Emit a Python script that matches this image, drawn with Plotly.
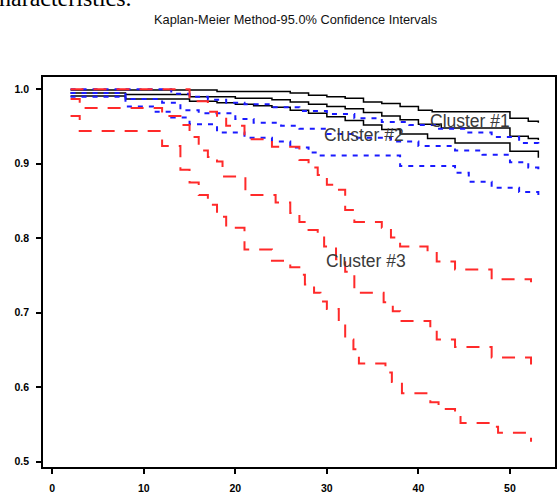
import plotly.graph_objects as go

# ---------------- data ----------------
title_text = "Kaplan-Meier Method-95.0% Confidence Intervals"
header_text = "haracteristics."

x_ticks = [0, 10, 20, 30, 40, 50]
y_ticks = [0.5, 0.6, 0.7, 0.8, 0.9, 1.0]
y_tick_labels = ["0.5", "0.6", "0.7", "0.8", "0.9", "1.0"]

# Cluster #1 (black, solid): upper CI, estimate, lower CI
c1_up_t = [2, 18, 26, 28, 30, 32, 34, 36, 38, 40, 41.5, 50, 52, 53.1]
c1_up_s = [0.999, 0.997, 0.995, 0.992, 0.990, 0.988, 0.983, 0.981, 0.977, 0.972, 0.970, 0.961, 0.957, 0.955]
c1_est_t = [2, 8, 15, 20, 24, 26, 28, 30, 32, 34, 36, 38, 40, 42.5, 50, 52, 53.1]
c1_est_s = [0.995, 0.993, 0.990, 0.988, 0.986, 0.983, 0.980, 0.977, 0.974, 0.969, 0.964, 0.959, 0.953, 0.948, 0.937, 0.934, 0.932]
c1_lo_t = [2, 8, 15, 18, 20, 22, 24, 26, 28, 30, 32, 34, 36, 38, 41, 44, 50, 53.1]
c1_lo_s = [0.991, 0.987, 0.984, 0.982, 0.980, 0.978, 0.976, 0.972, 0.968, 0.963, 0.958, 0.952, 0.946, 0.940, 0.934, 0.928, 0.917, 0.908]

# Cluster #2 (blue, dotted)
c2_up_t = [2, 13, 15, 17, 19, 21, 24, 27, 30, 33, 36, 39, 42, 45, 48, 51, 53.1]
c2_up_s = [1.0, 0.994, 0.990, 0.986, 0.982, 0.980, 0.976, 0.971, 0.967, 0.961, 0.956, 0.952, 0.947, 0.942, 0.936, 0.928, 0.921]
c2_est_t = [2, 8, 12, 14, 16, 20, 22, 25, 27, 30, 33, 37, 40, 44, 47, 50, 52, 53.1]
c2_est_s = [0.995, 0.987, 0.982, 0.972, 0.968, 0.960, 0.955, 0.951, 0.947, 0.940, 0.935, 0.930, 0.924, 0.918, 0.912, 0.902, 0.895, 0.889]
c2_lo_t = [2, 8, 11, 13, 15, 18, 21, 24, 26, 28, 29, 38, 44, 45.5, 48, 51, 53.1]
c2_lo_s = [0.990, 0.977, 0.970, 0.962, 0.953, 0.942, 0.935, 0.930, 0.922, 0.915, 0.911, 0.897, 0.888, 0.876, 0.868, 0.862, 0.856]

# Cluster #3 (red, dashed)
c3_up_t = [2, 15, 17, 18, 19, 21, 24, 27, 28, 29, 30, 31, 32, 33, 36, 37, 38, 41, 42, 44, 48, 52.3]
c3_up_s = [1.000, 0.984, 0.970, 0.962, 0.951, 0.933, 0.923, 0.905, 0.895, 0.885, 0.872, 0.865, 0.838, 0.822, 0.814, 0.801, 0.789, 0.782, 0.769, 0.758, 0.745, 0.741]
c3_est_t = [2, 3, 12, 14, 15, 16, 17, 18, 18.6, 21.1, 24.4, 26, 27, 28, 29, 29.7, 31, 32, 33, 36.2, 37.2, 38, 41.3, 42, 44, 48, 52.3]
c3_est_s = [0.987, 0.975, 0.964, 0.952, 0.936, 0.918, 0.909, 0.903, 0.883, 0.858, 0.848, 0.834, 0.822, 0.811, 0.805, 0.789, 0.772, 0.755, 0.727, 0.714, 0.702, 0.689, 0.678, 0.664, 0.654, 0.640, 0.628]
c3_lo_t = [2, 3, 12, 14, 15, 16, 17, 18, 19, 21, 24, 26, 27.2, 27.6, 28.6, 29.3, 30, 31.3, 32, 32.9, 33.5, 36.4, 37.1, 38.2, 41.3, 42.2, 44, 44.6, 48.2, 48.7, 52.3]
c3_lo_s = [0.964, 0.944, 0.924, 0.892, 0.875, 0.858, 0.845, 0.829, 0.814, 0.785, 0.770, 0.761, 0.751, 0.738, 0.727, 0.715, 0.705, 0.687, 0.664, 0.651, 0.632, 0.620, 0.607, 0.592, 0.580, 0.571, 0.560, 0.552, 0.547, 0.539, 0.527]

labels = ["Cluster #1", "Cluster #2", "Cluster #3"]
label_x = [45.6, 34.1, 34.3]
label_y = [0.958, 0.939, 0.7695]

# ---------------- figure ----------------
fig = go.Figure()

def add(t, s, color, width, dash):
    fig.add_trace(go.Scatter(x=t, y=s, mode="lines", line_shape="hv",
                             line=dict(color=color, width=width, dash=dash),
                             showlegend=False, hoverinfo="skip"))

black = "#000000"
blue = "#1a1aff"
red = "#ff2a2a"

for t, s in [(c1_up_t, c1_up_s), (c1_est_t, c1_est_s), (c1_lo_t, c1_lo_s)]:
    add(t, s, black, 1.5, "solid")
for t, s in [(c2_up_t, c2_up_s), (c2_est_t, c2_est_s), (c2_lo_t, c2_lo_s)]:
    add(t, s, blue, 2, "5px,6px")
for t, s in [(c3_up_t, c3_up_s), (c3_est_t, c3_est_s), (c3_lo_t, c3_lo_s)]:
    add(t, s, red, 2, "13px,10px")

for txt, lx, ly in zip(labels, label_x, label_y):
    fig.add_annotation(x=lx, y=ly, xref="x", yref="y", text=txt, showarrow=False,
                       font=dict(family="Liberation Sans, Arial", size=17.5, color="#3a3a3a"),
                       xanchor="center", yanchor="middle")

fig.add_annotation(x=0.494, y=1.148, xref="paper", yref="paper", text=title_text,
                   showarrow=False, xanchor="center", yanchor="middle",
                   font=dict(family="Liberation Sans, Arial", size=12.8, color="#111111"))

fig.add_annotation(x=-0.09, y=1.165, xref="paper", yref="paper", text=header_text,
                   showarrow=False, xanchor="left", yanchor="bottom",
                   font=dict(family="Liberation Serif, Times New Roman", size=24, color="#000000"))

axis_font = dict(family="Liberation Sans, Arial", size=10.5, color="#000000", weight="bold")

fig.update_xaxes(range=[-1.01, 54.92], tickvals=x_ticks, ticktext=[str(v) for v in x_ticks],
                 ticks="outside", ticklen=5, tickwidth=1.5, tickcolor="black",
                 showline=True, linecolor="black", linewidth=1.5, mirror=True,
                 showgrid=False, zeroline=False, tickfont=axis_font, ticklabelstandoff=6)
fig.update_yaxes(range=[0.493, 1.0165], tickvals=y_ticks, ticktext=y_tick_labels,
                 ticks="outside", ticklen=5, tickwidth=1.5, tickcolor="black",
                 showline=True, linecolor="black", linewidth=1.5, mirror=True,
                 showgrid=False, zeroline=False, tickfont=axis_font, ticklabelstandoff=5)

fig.update_layout(width=559, height=496, margin=dict(l=43, r=2, t=77, b=28),
                  paper_bgcolor="white", plot_bgcolor="white")

fig.write_html("out.html")
